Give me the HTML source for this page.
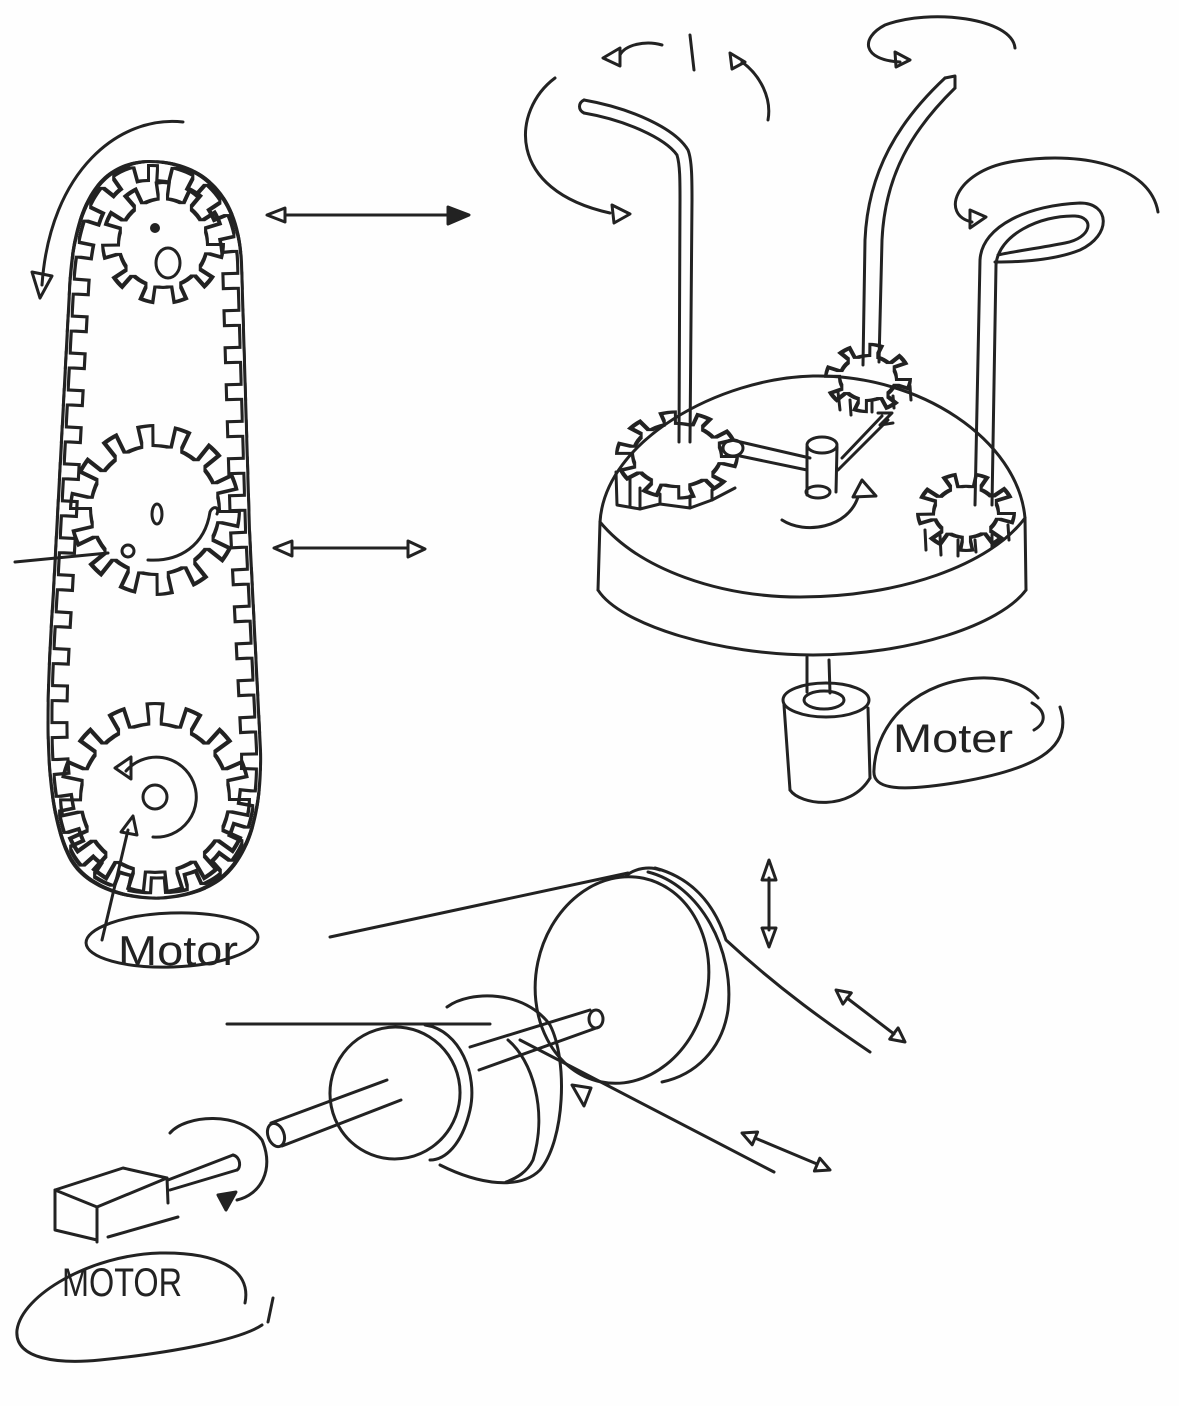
<!DOCTYPE html>
<html><head><meta charset="utf-8"><style>
html,body{margin:0;padding:0;background:#fff;}
svg{display:block;}
text{font-family:"Liberation Sans",sans-serif;fill:#222;}
</style></head><body>
<svg width="1179" height="1406" viewBox="0 0 1179 1406" xmlns="http://www.w3.org/2000/svg">
<defs>
<filter id="ol" x="-20%" y="-20%" width="140%" height="140%" color-interpolation-filters="sRGB">
<feMorphology in="SourceAlpha" operator="erode" radius="2.8" result="e"/>
<feComposite in="SourceGraphic" in2="e" operator="out"/>
</filter>
<clipPath id="bc"><path d="M150,160 C 100,160 72,200 68,290 L 52,590 C 45,700 40,800 68,858 C 92,905 180,912 222,880 C 256,852 263,800 262,750 L 251,530 L 243,262 C 240,190 200,160 150,160 Z"/></clipPath>
</defs>
<rect width="1179" height="1406" fill="#fefefe"/>

<!-- ===== LEFT BELT ASSEMBLY ===== -->
<g filter="url(#ol)">
<path fill="#222" fill-rule="evenodd" d="M150,160 C 100,160 72,200 68,290 L 52,590 C 45,700 40,800 68,858 C 92,905 180,912 222,880 C 256,852 263,800 262,750 L 251,530 L 243,262 C 240,190 200,160 150,160 Z M150,167 C 105,167 79,205 75,291 L 59,590 C 52,700 47,798 74,852 C 97,896 178,903 217,874 C 249,847 256,800 255,751 L 244,530 L 236,262 C 233,195 196,167 150,167 Z"/>
<path fill="none" stroke="#222" stroke-width="30" stroke-dasharray="18 19" clip-path="url(#bc)" d="M150,167 C 105,167 79,205 75,291 L 59,590 C 52,700 47,798 74,852 C 97,896 178,903 217,874 C 249,847 256,800 255,751 L 244,530 L 236,262 C 233,195 196,167 150,167 Z"/>
</g>
<g filter="url(#ol)">
<circle cx="163" cy="243" r="46" fill="#222"/>
<circle cx="163" cy="243" r="52" fill="none" stroke="#222" stroke-width="20" stroke-dasharray="14 15.7"/>
</g>
<g filter="url(#ol)">
<circle cx="155" cy="510" r="66" fill="#222"/>
<circle cx="155" cy="510" r="74" fill="none" stroke="#222" stroke-width="24" stroke-dasharray="16 17.2"/>
</g>
<g filter="url(#ol)">
<circle cx="155" cy="798" r="76" fill="#222"/>
<circle cx="155" cy="798" r="84" fill="none" stroke="#222" stroke-width="24" stroke-dasharray="17 18.2"/>
</g>

<g fill="none" stroke="#222" stroke-width="3" stroke-linecap="round" stroke-linejoin="round">
<ellipse cx="168" cy="263" rx="12" ry="15"/>
<circle cx="155" cy="228" r="3.5" fill="#222"/>
<ellipse cx="157" cy="514" rx="5" ry="10"/>
<circle cx="128" cy="551" r="6"/>
<path d="M148,560 C 180,562 205,545 210,512 C 213,505 220,507 217,514"/>
<path d="M15,562 L 108,553"/>
<circle cx="155" cy="797" r="12"/>
<path d="M126,771 A 40 40 0 1 1 153,837"/>
<path d="M115,768 L 131,757 L 131,779 Z"/>
<path d="M102,940 L 128,830"/>
<path d="M121,832 L 133,816 L 137,835 Z"/>
<path d="M183,122 C 120,115 50,170 42,285"/>
<path d="M32,272 L 52,276 L 40,298 Z"/>
<path d="M285,215 L 448,215"/>
<path d="M267,215 L 285,208 L 285,222 Z"/>
<path d="M448,207 L 469,215 L 448,224 Z" fill="#222"/>
<path d="M292,548 L 408,548"/>
<path d="M274,548 L 292,541 L 292,556 Z"/>
<path d="M408,541 L 425,549 L 408,557 Z"/>
<ellipse cx="172" cy="940" rx="86" ry="27" transform="rotate(-2 172 940)"/>
</g>
<text x="118" y="965" font-size="42" textLength="120" lengthAdjust="spacingAndGlyphs">Motor</text>

<!-- ===== TOP RIGHT CAROUSEL ===== -->
<g fill="none" stroke="#222" stroke-width="3" stroke-linecap="round" stroke-linejoin="round">
<path d="M600,522 C 605,440 720,378 813,376 C 920,374 1018,440 1025,518"/>
<path d="M600,522 C 640,570 720,597 800,597 C 900,597 990,565 1025,518"/>
<path d="M600,522 L 598,590"/>
<path d="M1025,518 L 1026,590"/>
<path d="M598,590 C 620,625 720,655 813,655 C 910,655 1000,625 1026,590"/>
</g>
<g filter="url(#ol)"><g transform="translate(677 455) scale(1 0.72)">
<circle r="46" fill="#222"/>
<circle r="52" fill="none" stroke="#222" stroke-width="20" stroke-dasharray="16 16.67"/>
</g></g>
<g filter="url(#ol)"><g transform="translate(868 378) scale(1 0.8)">
<circle r="30" fill="#222"/>
<circle r="35" fill="none" stroke="#222" stroke-width="18" stroke-dasharray="13 14.5"/>
</g></g>
<g filter="url(#ol)"><g transform="translate(966 512) scale(1 0.8)">
<circle r="34" fill="#222"/>
<circle r="40" fill="none" stroke="#222" stroke-width="20" stroke-dasharray="13 14.9"/>
</g></g>

<g fill="none" stroke="#222" stroke-width="3" stroke-linecap="round" stroke-linejoin="round">
<path d="M616,472 L 617,505 L 640,509 L 660,504 L 690,508 L 712,500 L 735,488"/>
<path d="M640,488 L 640,509 M660,494 L 660,504 M690,496 L 690,508 M712,490 L 712,500 M630,478 L 630,506"/>
<path d="M838,392 L 840,410 M850,400 L 851,415 M872,402 L 872,412 M893,396 L 894,408 M910,386 L 911,400"/>
<path d="M925,530 L 926,550 M940,535 L 941,555 M958,540 L 958,556 M975,540 L 976,552 M992,535 L 992,548 M1008,525 L 1009,540"/>
<path d="M584,100 C 630,108 675,128 688,150 C 692,160 692,180 692,200 L 690,442"/>
<path d="M584,113 C 625,120 665,138 677,155 C 680,165 680,180 680,200 L 679,442"/>
<path d="M584,100 C 578,103 578,110 584,113"/>
<path d="M863,365 L 865,240 C 868,170 900,120 945,78"/>
<path d="M879,362 L 882,240 C 885,175 912,130 955,88"/>
<path d="M945,78 L 955,76 L 955,88"/>
<path d="M975,505 L 980,260 C 982,225 1030,205 1080,203 C 1110,203 1112,235 1080,250 C 1050,262 1010,262 995,262"/>
<path d="M992,505 L 996,265 C 998,235 1040,215 1075,216 C 1095,217 1092,238 1065,243 C 1040,248 1010,252 998,255"/>
<path d="M555,78 C 512,110 505,190 610,213"/>
<path d="M612,205 L 630,214 L 614,223 Z"/>
<path d="M662,45 C 645,40 625,45 620,55"/>
<path d="M620,48 L 603,58 L 620,66 Z"/>
<path d="M690,35 L 694,70"/>
<path d="M730,53 L 745,62 L 732,69 Z"/>
<path d="M742,62 C 760,75 772,98 768,120"/>
<path d="M1015,48 C 1012,18 930,8 885,25 C 860,38 862,60 900,62"/>
<path d="M895,52 L 910,60 L 896,67 Z"/>
<path d="M1158,212 C 1150,165 1080,150 1010,162 C 955,172 940,215 972,222"/>
<path d="M970,210 L 986,217 L 970,228 Z"/>
<ellipse cx="822" cy="445" rx="15" ry="8"/>
<path d="M807,447 L 807,495 M837,447 L 836,492"/>
<ellipse cx="818" cy="492" rx="12" ry="6"/>
<path d="M732,440 L 810,458 M740,456 L 807,470"/>
<ellipse cx="733" cy="448" rx="10" ry="8"/>
<path d="M838,470 L 888,420 M842,458 L 882,416"/>
<path d="M878,413 L 892,413 L 880,425 L 893,423"/>
<path d="M782,520 C 805,535 848,528 858,497"/>
<path d="M862,480 L 853,497 L 876,496 Z"/>
<path d="M807,657 L 807,692 M829,660 L 830,693"/>
<ellipse cx="826" cy="700" rx="43" ry="17"/>
<ellipse cx="824" cy="700" rx="20" ry="9"/>
<path d="M784,705 L 790,790 M868,708 L 870,778"/>
<path d="M790,790 C 800,805 850,812 870,778"/>
<path d="M1060,707 C 1075,750 1030,770 960,782 C 900,792 872,790 874,770 C 876,720 920,680 980,678 C 1010,677 1030,688 1038,698"/>
<path d="M1032,703 C 1045,710 1048,722 1034,730"/>
</g>
<text x="893" y="752" font-size="40" textLength="120" lengthAdjust="spacingAndGlyphs">Moter</text>

<!-- ===== BOTTOM ASSEMBLY ===== -->
<g fill="none" stroke="#222" stroke-width="3" stroke-linecap="round" stroke-linejoin="round">
<ellipse cx="622" cy="980" rx="86" ry="104" transform="rotate(12 622 980)"/>
<path d="M648,872 C 700,885 735,950 728,1010 C 722,1050 695,1075 662,1082"/>
<path d="M330,937 L 628,873"/>
<path d="M626,876 C 635,868 650,866 660,870"/>
<path d="M655,868 C 700,880 718,915 726,940 C 780,990 830,1025 870,1052"/>
<path d="M227,1024 L 490,1024"/>
<path d="M520,1040 L 774,1172"/>
<path d="M447,1007 C 470,990 525,990 550,1025 C 568,1060 565,1140 540,1170 C 520,1190 480,1185 440,1165"/>
<path d="M508,1040 C 532,1060 548,1110 533,1160 C 527,1172 517,1178 506,1182"/>
<ellipse cx="395" cy="1093" rx="65" ry="66" transform="rotate(10 395 1093)"/>
<path d="M425,1025 C 460,1030 478,1075 470,1110 C 462,1145 445,1160 430,1160"/>
<path d="M271,1123 L 387,1080 M282,1146 L 401,1100"/>
<ellipse cx="276" cy="1135" rx="8" ry="12" transform="rotate(-20 276 1135)"/>
<path d="M470,1047 L 590,1010 M479,1070 L 599,1027"/>
<ellipse cx="596" cy="1019" rx="7" ry="9"/>
<path d="M572,1085 L 591,1088 L 584,1106 Z"/>
<path d="M769,878 L 769,930"/>
<path d="M769,860 L 762,880 L 776,880 Z"/>
<path d="M769,947 L 762,928 L 776,928 Z"/>
<path d="M847,998 L 894,1034"/>
<path d="M836,990 L 842.9,1004.1 L 851.3,992.9 Z"/>
<path d="M905,1042 L 889.7,1039.1 L 898.1,1027.9 Z"/>
<path d="M755,1138 L 817,1164"/>
<path d="M742,1133 L 752.2,1144.8 L 757.6,1132 Z"/>
<path d="M830,1170 L 814.4,1171 L 819.8,1158.2 Z"/>
<path d="M55,1190 L 97,1207 L 97,1242 M55,1190 L 55,1230 L 97,1240"/>
<path d="M55,1190 L 123,1168 L 167,1178 L 97,1207"/>
<path d="M167,1178 L 168,1203 M108,1237 L 178,1217"/>
<path d="M168,1180 L 233,1155 M170,1190 L 237,1170"/>
<path d="M233,1155 C 241,1157 241,1168 237,1170"/>
<path d="M170,1133 C 185,1115 240,1110 262,1140 C 275,1170 260,1195 237,1200"/>
<path d="M218,1195 L 236,1192 L 226,1210 Z" fill="#222"/>
<path d="M245,1303 C 252,1268 215,1252 160,1253 C 90,1255 22,1295 17,1330 C 14,1360 60,1364 100,1360 C 170,1353 240,1340 262,1325"/>
<path d="M273,1298 L 268,1322"/>
</g>
<text x="62" y="1296" font-size="40" textLength="120" lengthAdjust="spacingAndGlyphs">MOTOR</text>
</svg>
</body></html>
